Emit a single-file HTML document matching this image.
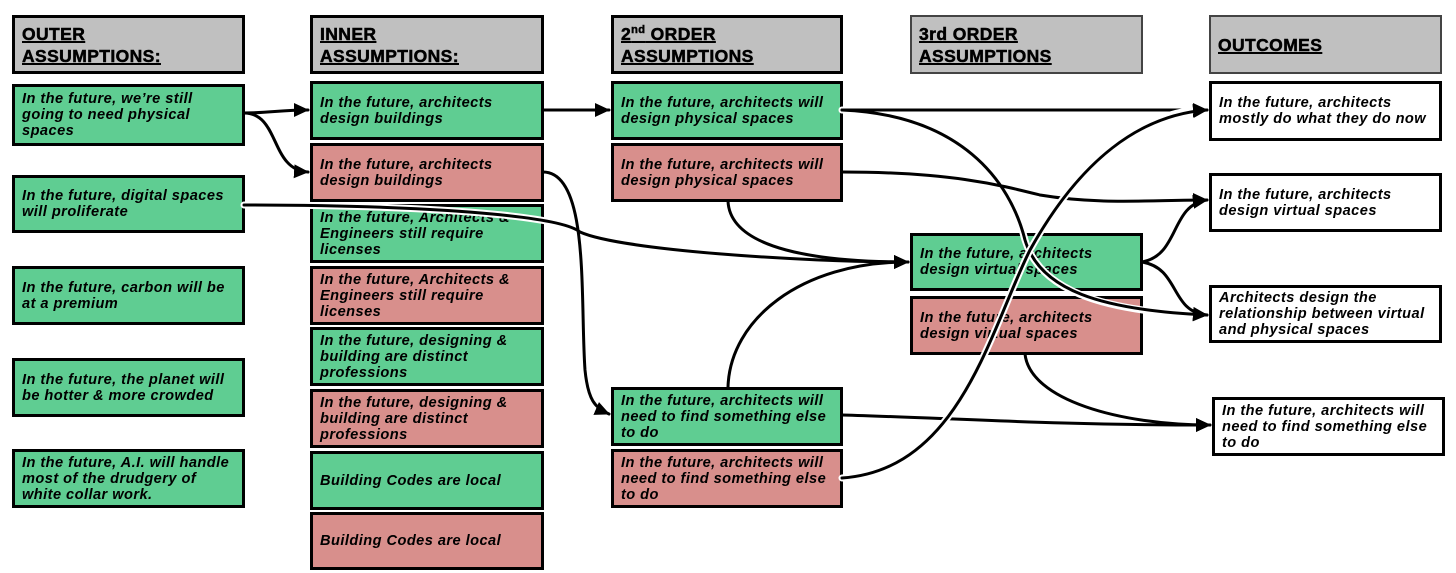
<!DOCTYPE html>
<html><head><meta charset="utf-8"><style>
body{margin:0;width:1456px;height:573px;background:#fff;position:relative;overflow:hidden;font-family:"Liberation Sans",sans-serif;}
.b{position:absolute;box-sizing:border-box;border:3px solid #000;display:flex;align-items:center;padding:0 7px;font-weight:bold;font-style:italic;font-size:14.6px;line-height:16px;letter-spacing:0.45px;color:#000;white-space:nowrap;}
.g{background:#5fcd92}.r{background:#d88f8c}.w{background:#fff}
.h{background:#c0c0c0;font-style:normal;font-weight:900;font-size:17.5px;line-height:22px;text-decoration:underline;text-decoration-thickness:2px;letter-spacing:0.4px;-webkit-text-stroke:0.5px #000}
.thin{border:2px solid #444}
svg{position:absolute;left:0;top:0}
</style></head><body>
<div class="b h" style="left:12px;top:15px;width:233px;height:59px">OUTER<br>ASSUMPTIONS:</div>
<div class="b g" style="left:12px;top:84px;width:233px;height:62px">In the future, we’re still<br>going to need physical<br>spaces</div>
<div class="b g" style="left:12px;top:175px;width:233px;height:58px">In the future, digital spaces<br>will proliferate</div>
<div class="b g" style="left:12px;top:266px;width:233px;height:59px">In the future, carbon will be<br>at a premium</div>
<div class="b g" style="left:12px;top:358px;width:233px;height:59px">In the future, the planet will<br>be hotter &amp; more crowded</div>
<div class="b g" style="left:12px;top:449px;width:233px;height:59px">In the future, A.I. will handle<br>most of the drudgery of<br>white collar work.</div>

<div class="b h" style="left:310px;top:15px;width:234px;height:59px">INNER<br>ASSUMPTIONS:</div>
<div class="b g" style="left:310px;top:81px;width:234px;height:59px">In the future, architects<br>design buildings</div>
<div class="b r" style="left:310px;top:143px;width:234px;height:59px">In the future, architects<br>design buildings</div>
<div class="b g" style="left:310px;top:204px;width:234px;height:59px">In the future, Architects &amp;<br>Engineers still require<br>licenses</div>
<div class="b r" style="left:310px;top:266px;width:234px;height:59px">In the future, Architects &amp;<br>Engineers still require<br>licenses</div>
<div class="b g" style="left:310px;top:327px;width:234px;height:59px">In the future, designing &amp;<br>building are distinct<br>professions</div>
<div class="b r" style="left:310px;top:389px;width:234px;height:59px">In the future, designing &amp;<br>building are distinct<br>professions</div>
<div class="b g" style="left:310px;top:451px;width:234px;height:59px">Building Codes are local</div>
<div class="b r" style="left:310px;top:512px;width:234px;height:58px">Building Codes are local</div>

<div class="b h" style="left:611px;top:15px;width:232px;height:59px"><span>2<sup style="font-size:11px;line-height:0">nd</sup> ORDER<br>ASSUMPTIONS</span></div>
<div class="b g" style="left:611px;top:81px;width:232px;height:59px">In the future, architects will<br>design physical spaces</div>
<div class="b r" style="left:611px;top:143px;width:232px;height:59px">In the future, architects will<br>design physical spaces</div>
<div class="b g" style="left:611px;top:387px;width:232px;height:59px">In the future, architects will<br>need to find something else<br>to do</div>
<div class="b r" style="left:611px;top:449px;width:232px;height:59px">In the future, architects will<br>need to find something else<br>to do</div>

<div class="b h thin" style="left:910px;top:15px;width:233px;height:59px">3rd ORDER<br>ASSUMPTIONS</div>
<div class="b g" style="left:910px;top:233px;width:233px;height:58px">In the future, architects<br>design virtual spaces</div>
<div class="b r" style="left:910px;top:296px;width:233px;height:59px">In the future, architects<br>design virtual spaces</div>

<div class="b h thin" style="left:1209px;top:15px;width:233px;height:59px">OUTCOMES</div>
<div class="b w" style="left:1209px;top:81px;width:233px;height:60px">In the future, architects<br>mostly do what they do now</div>
<div class="b w" style="left:1209px;top:173px;width:233px;height:59px">In the future, architects<br>design virtual spaces</div>
<div class="b w" style="left:1209px;top:285px;width:233px;height:58px">Architects design the<br>relationship between virtual<br>and physical spaces</div>
<div class="b w" style="left:1212px;top:397px;width:233px;height:59px">In the future, architects will<br>need to find something else<br>to do</div>

<svg width="1456" height="573" viewBox="0 0 1456 573">
<defs><marker id="a" markerWidth="15" markerHeight="14" viewBox="0 0 15 14" refX="14" refY="7" orient="auto" markerUnits="userSpaceOnUse"><path d="M0,0 L15,7 L0,14 z" fill="#000"/></marker></defs>
<g fill="none" stroke-linecap="round">
<g stroke="#fff" stroke-width="7">
<path d="M244,205 C420,205 560,215 580,232 C620,250 800,262 896,262"/>
<path d="M842,110 C960,115 1010,180 1025,240 C1040,290 1100,310 1196,315"/>
</g>
<g stroke="#000" stroke-width="3">
<path d="M244,113 C270,113 280,110 308,110" marker-end="url(#a)"/>
<path d="M244,113 C280,113 270,170 308,172" marker-end="url(#a)"/>
<path d="M543,110 L609,110" marker-end="url(#a)"/>
<path d="M543,172 C590,172 580,300 585,370 C588,400 595,408 609,414" marker-end="url(#a)"/>
<path d="M842,110 L1207,110" marker-end="url(#a)"/>
<path d="M842,172 C950,172 1000,185 1040,195 C1100,205 1150,200 1207,200" marker-end="url(#a)"/>
<path d="M728,201 C730,250 820,262 908,262" marker-end="url(#a)"/>
<path d="M728,387 C730,320 800,262 908,262" marker-end="url(#a)"/>
<path d="M842,415 C950,418 1050,425 1210,425" marker-end="url(#a)"/>
<path d="M1025,354 C1030,400 1120,425 1210,425" marker-end="url(#a)"/>
<path d="M1142,262 C1180,255 1170,205 1207,200" marker-end="url(#a)"/>
<path d="M1142,262 C1180,268 1170,312 1207,315" marker-end="url(#a)"/>
<path d="M244,205 C420,205 560,215 580,232 C620,250 800,262 908,262" marker-end="url(#a)"/>
<path d="M842,110 C960,115 1010,180 1025,240 C1040,290 1100,310 1207,315" marker-end="url(#a)"/>
</g>
<path d="M842,478 C960,470 990,330 1030,250 C1080,160 1140,115 1196,110" stroke="#fff" stroke-width="7"/>
<path d="M842,478 C960,470 990,330 1030,250 C1080,160 1140,115 1207,110" stroke="#000" stroke-width="3" marker-end="url(#a)"/>
</g>
</svg>
</body></html>
